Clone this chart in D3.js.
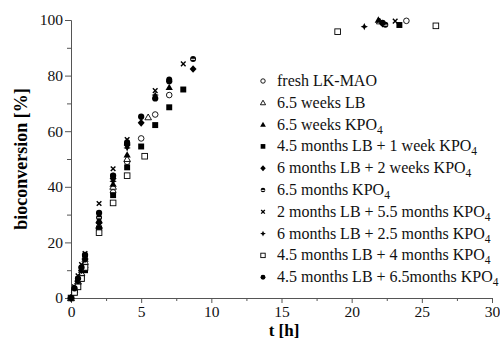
<!DOCTYPE html>
<html>
<head>
<meta charset="utf-8">
<script src="https://cdn.jsdelivr.net/npm/d3@7"></script>
<style>
  body { margin: 0; background: #fff; }
  text { font-family: "Liberation Serif", "Times New Roman", serif; }
</style>
</head>
<body>
<svg id="chart"></svg>
<script>
// chart data
var seriesNames = ["fresh LK-MAO", "6.5 weeks LB", "6.5 weeks KPO|4", "4.5 months LB + 1 week KPO|4",
  "6 months LB + 2 weeks KPO|4", "6.5 months KPO|4", "2 months LB + 5.5 months KPO|4",
  "6 months LB + 2.5 months KPO|4", "4.5 months LB + 4 months KPO|4", "4.5 months LB + 6.5months KPO|4"];

var tFresh = [0, 0.25, 0.5, 0.75, 1, 2, 3, 4, 5, 6, 7, 23.9];
var vFresh = [0, 2.5, 5, 8, 11, 25, 38, 49, 57.4, 66, 73, 99.7];
var tWeeksLB = [0, 0.25, 0.5, 0.75, 1, 2, 3, 4, 5.5, 22];
var vWeeksLB = [0, 3, 6, 9, 13, 26, 40, 50, 65, 99.5];
var tWeeksKPO = [0, 0.25, 0.5, 0.75, 1, 2, 3, 4, 7, 21.9];
var vWeeksKPO = [0, 3.5, 7, 10, 14, 28, 41, 51.5, 75.8, 100];
var tM45LB1w = [0, 0.25, 0.5, 0.75, 1, 2, 3, 4, 5, 6, 7, 8, 23.4];
var vM45LB1w = [0, 2, 4, 7, 10, 25, 37, 47, 54.5, 62.2, 68.6, 75, 98.2];
var tM6LB2w = [0, 0.25, 0.5, 0.75, 1, 2, 3, 4, 5, 8.7, 22.2];
var vM6LB2w = [0, 3, 6, 10, 14, 27, 43, 55, 63, 82.4, 98.7];
var tM65KPO = [0, 0.25, 0.5, 0.75, 1, 2, 3, 4, 7, 8.7, 22.4];
var vM65KPO = [0, 3.5, 7, 11, 15, 29, 44, 56, 78.6, 86, 98.3];
var tM2LB = [0, 0.25, 0.5, 0.75, 1, 2, 3, 4, 6, 8, 23.1];
var vM2LB = [0, 4, 8, 12, 16, 34, 46.5, 57, 74.6, 84.2, 99.6];
var tM6LB25 = [0, 0.25, 0.5, 0.75, 1, 2, 3, 4, 6, 20.9];
var vM6LB25 = [0, 3, 6, 10, 14, 27, 42, 54, 73, 97.6];
var tM45LB4 = [0, 0.25, 0.5, 0.75, 1, 2, 3, 4, 5.25, 19, 26];
var vM45LB4 = [0, 2, 4, 7, 11, 23.5, 34.2, 44, 51, 95.8, 97.9];
var tM45LB65 = [0, 0.25, 0.5, 0.75, 1, 2, 3, 4, 5, 6, 7, 22.2];
var vM45LB65 = [0, 3.5, 7, 11, 15.5, 30.6, 44, 55.5, 65.2, 71.8, 78, 99];

var xTicks = [0, 5, 10, 15, 20, 25, 30];
var yTicks = [0, 20, 40, 60, 80, 100];

var allT = [tFresh, tWeeksLB, tWeeksKPO, tM45LB1w, tM6LB2w, tM65KPO, tM2LB, tM6LB25, tM45LB4, tM45LB65];
var allV = [vFresh, vWeeksLB, vWeeksKPO, vM45LB1w, vM6LB2w, vM65KPO, vM2LB, vM6LB25, vM45LB4, vM45LB65];
var markers = ["circleOpen", "triOpen", "triFilled", "squareFilled", "diamond", "halfCircle", "times", "star", "squareOpen", "circleFilled"];

var margin = {top: 20, right: 8, bottom: 41, left: 71};
var W = 500, H = 339;
var width = W - margin.left - margin.right;
var height = H - margin.top - margin.bottom;

var svg = d3.select('#chart').attr('width', W).attr('height', H);
var g = svg.append('g').attr('transform', 'translate(' + margin.left + ',' + margin.top + ')');

var xScale = d3.scaleLinear().domain([0, 30]).range([0, 421]);
var yScale = d3.scaleLinear().domain([0, 100]).range([height, 0]);

var axisColor = '#555';

// x axis with minor ticks
var xMinor = g.append('g').attr('transform', 'translate(0,' + height + ')')
  .call(d3.axisBottom(xScale).tickValues(d3.range(2.5, 30, 5)).tickSize(3).tickFormat(''));
var xAxis = g.append('g').attr('transform', 'translate(0,' + height + ')')
  .call(d3.axisBottom(xScale).tickValues(xTicks).tickSize(5).tickPadding(3).tickFormat(d3.format('d')));
xAxis.select('.domain').attr('d', 'M0,0.5H' + (xScale(30) + 0.5));

var yMinor = g.append('g')
  .call(d3.axisLeft(yScale).tickValues(d3.range(10, 100, 20)).tickSize(4).tickFormat(''));
var yAxis = g.append('g')
  .call(d3.axisLeft(yScale).tickValues(yTicks).tickSize(6).tickPadding(2).tickFormat(d3.format('d')));

[xMinor, xAxis, yMinor, yAxis].forEach(function(a) {
  a.selectAll('path, line').attr('stroke', axisColor);
  a.selectAll('text').attr('fill', '#111').style('font-size', '15.5px')
    .style('font-family', '"Liberation Serif", serif');
});
xMinor.select('.domain').remove();
yMinor.select('.domain').remove();

// axis titles
svg.append('text')
  .attr('transform', 'translate(27,' + (margin.top + height / 2) + ') rotate(-90)')
  .attr('text-anchor', 'middle')
  .style('font-size', '18px').style('font-weight', 'bold')
  .text('bioconversion [%]');

svg.append('text')
  .attr('x', 284).attr('y', 336)
  .attr('text-anchor', 'middle')
  .style('font-size', '17px').style('font-weight', 'bold')
  .text('t [h]');

// marker drawing
function drawMarker(sel, type, s) {
  var r = s;
  if (type === 'circleOpen') {
    sel.append('circle').attr('r', r * 0.85).attr('fill', '#fff').attr('stroke', '#000').attr('stroke-width', 0.9);
  } else if (type === 'circleFilled') {
    sel.append('circle').attr('r', r * 0.95).attr('fill', '#000');
  } else if (type === 'halfCircle') {
    sel.append('circle').attr('r', r * 0.9).attr('fill', '#000');
    sel.append('line').attr('x1', -r * 0.6).attr('x2', r * 0.6).attr('y1', 0.4).attr('y2', 0.4)
      .attr('stroke', '#fff').attr('stroke-width', 1);
  } else if (type === 'triOpen') {
    sel.append('path').attr('d', 'M0,' + (-r) + 'L' + r + ',' + (r * 0.75) + 'L' + (-r) + ',' + (r * 0.75) + 'Z')
      .attr('fill', '#fff').attr('stroke', '#000').attr('stroke-width', 0.9);
  } else if (type === 'triFilled') {
    sel.append('path').attr('d', 'M0,' + (-r * 1.1) + 'L' + (r * 1.1) + ',' + (r * 0.8) + 'L' + (-r * 1.1) + ',' + (r * 0.8) + 'Z')
      .attr('fill', '#000');
  } else if (type === 'squareFilled') {
    sel.append('rect').attr('x', -r * 0.9).attr('y', -r * 0.9).attr('width', r * 1.8).attr('height', r * 1.8).attr('fill', '#000');
  } else if (type === 'squareOpen') {
    sel.append('rect').attr('x', -r * 0.85).attr('y', -r * 0.85).attr('width', r * 1.7).attr('height', r * 1.7)
      .attr('fill', '#fff').attr('stroke', '#000').attr('stroke-width', 0.9);
  } else if (type === 'diamond') {
    sel.append('path').attr('d', 'M0,' + (-r * 1.15) + 'L' + (r * 1.05) + ',0L0,' + (r * 1.15) + 'L' + (-r * 1.05) + ',0Z').attr('fill', '#000');
  } else if (type === 'times') {
    var k = r * 0.7;
    sel.append('path').attr('d', 'M' + (-k) + ',' + (-k) + 'L' + k + ',' + k + 'M' + k + ',' + (-k) + 'L' + (-k) + ',' + k)
      .attr('stroke', '#000').attr('stroke-width', 1.4);
  } else if (type === 'star') {
    var a = r * 1.1, b = r * 0.35;
    sel.append('path').attr('d', 'M0,' + (-a) + 'L' + b + ',' + (-b) + 'L' + a + ',0L' + b + ',' + b + 'L0,' + a +
      'L' + (-b) + ',' + b + 'L' + (-a) + ',0L' + (-b) + ',' + (-b) + 'Z').attr('fill', '#000');
  }
}

var pts = g.append('g').attr('class', 'points');
allT.forEach(function(ts, i) {
  ts.forEach(function(t, j) {
    var m = pts.append('g')
      .attr('transform', 'translate(' + xScale(t) + ',' + yScale(allV[i][j]) + ')');
    drawMarker(m, markers[i], 3.3);
  });
});

// legend
var legend = svg.append('g').attr('class', 'legend');
seriesNames.forEach(function(name, i) {
  var y = 81 + i * 21.8;
  var m = legend.append('g').attr('transform', 'translate(263,' + y + ')');
  drawMarker(m, markers[i], 2.6);
  var parts = name.split('|');
  var txt = legend.append('text').attr('x', 277).attr('y', y + 5)
    .style('font-size', '16px').attr('fill', '#111');
  txt.append('tspan').text(parts[0]);
  if (parts[1]) {
    txt.append('tspan').attr('dy', 4).style('font-size', '11.5px').text(parts[1]);
  }
});
</script>
</body>
</html>
